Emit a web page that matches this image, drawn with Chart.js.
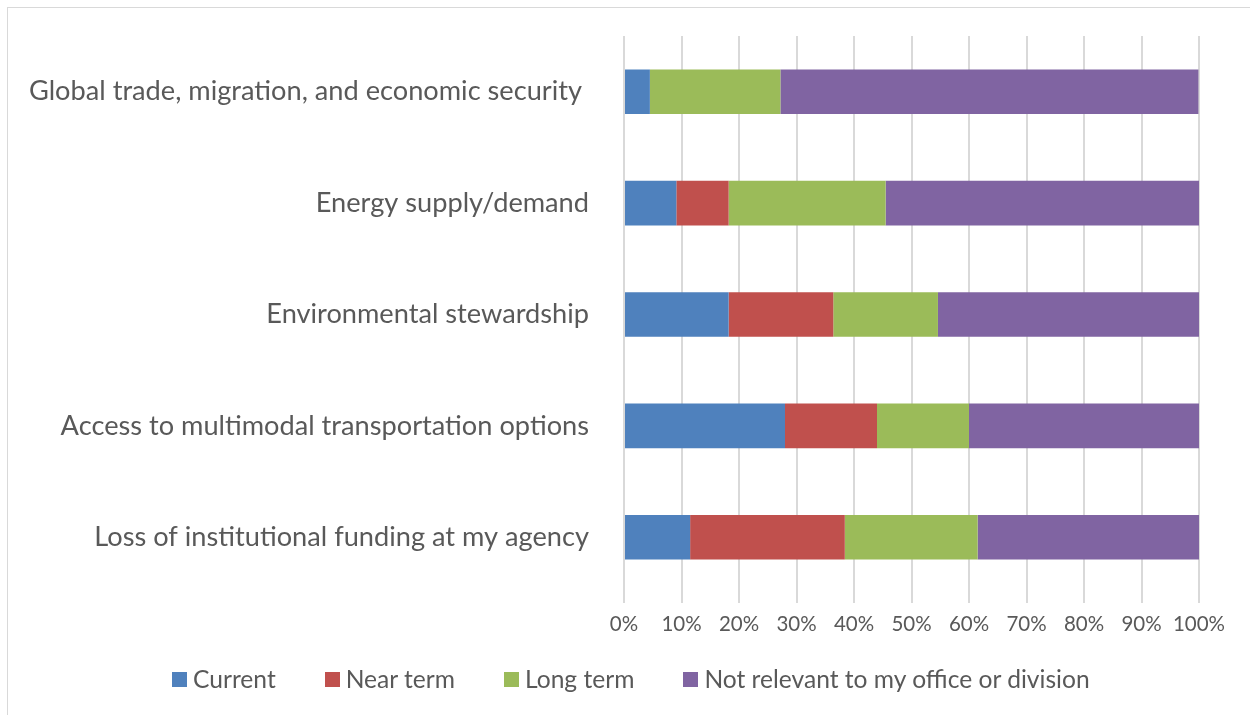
<!DOCTYPE html>
<html lang="en">
<head>
    <meta charset="UTF-8">
    <title>Issues by time horizon</title>
    <script src="https://cdn.jsdelivr.net/npm/chart.js"></script>
    <style>
        body { margin: 0; background: #fff; font-family: Lato, "Open Sans", sans-serif; }
        .frame { position: absolute; left: 7px; top: 7px; width: 1260px; height: 730px; border: 1px solid #d9d9d9; }
        .wrap { position: absolute; left: 0; top: 0; width: 1250px; height: 715px; }
        #legend { position: absolute; left: 172px; top: 664px; display: flex; align-items: center; font-size: 24.6px; color: #595959; line-height: 30px; white-space: nowrap; }
        #legend .item { display: flex; align-items: center; margin-right: 49px; }
        #legend .box { width: 15px; height: 15px; margin-right: 6px; }
    </style>
</head>
<body>
    <div class="frame"></div>
    <div class="wrap"><canvas id="chartIssues"></canvas></div>
    <div id="legend"></div>

    <script>
        // Categories (top to bottom)
        const categories = [
            'Global trade, migration, and economic security ',
            'Energy supply/demand',
            'Environmental stewardship',
            'Access to multimodal transportation options',
            'Loss of institutional funding at my agency'
        ];
        // Percent of respondents per category
        const current     = [4.5, 9.1, 18.2, 28, 11.5];
        const nearTerm    = [0, 9.1, 18.2, 16, 26.9];
        const longTerm    = [22.7, 27.3, 18.2, 16, 23.1];
        const notRelevant = [72.7, 54.5, 45.5, 40, 38.5];

        const textColor = '#595959';
        const fontFam = 'Lato, "Open Sans", sans-serif';

        const ctx = document.getElementById('chartIssues').getContext('2d');
        const chart = new Chart(ctx, {
            type: 'bar',
            data: {
                labels: categories,
                datasets: [
                    { label: 'Current', data: current, backgroundColor: '#4F81BD' },
                    { label: 'Near term', data: nearTerm, backgroundColor: '#C0504D' },
                    { label: 'Long term', data: longTerm, backgroundColor: '#9BBB59' },
                    { label: 'Not relevant to my office or division', data: notRelevant, backgroundColor: '#8064A2' }
                ]
            },
            options: {
                indexAxis: 'y',
                responsive: true,
                maintainAspectRatio: false,
                animation: false,
                layout: { padding: { top: 36, right: 51, left: 0, bottom: 76 } },
                datasets: { bar: { categoryPercentage: 1, barPercentage: 0.4, borderWidth: 0 } },
                plugins: {
                    legend: { display: false },
                    tooltip: { enabled: false }
                },
                scales: {
                    x: {
                        stacked: true,
                        min: 0,
                        max: 100,
                        ticks: {
                            stepSize: 10,
                            color: textColor,
                            font: { family: fontFam, size: 20.5 },
                            padding: 9,
                            maxRotation: 0,
                            callback: v => v + '%'
                        },
                        grid: { color: '#d9d9d9', lineWidth: 2, tickLength: 10 },
                        border: { display: false },
                        afterFit: s => { s.height = 46; }
                    },
                    y: {
                        stacked: true,
                        ticks: {
                            color: textColor,
                            font: { family: fontFam, size: 27.2, lineHeight: 0.6 },
                            padding: 27
                        },
                        grid: { display: false },
                        border: { display: false },
                        afterFit: s => { s.width = 624; }
                    }
                }
            }
        });

        // Legend built from the chart's datasets
        const legendEl = document.getElementById('legend');
        chart.data.datasets.forEach(ds => {
            const item = document.createElement('div');
            item.className = 'item';
            const box = document.createElement('span');
            box.className = 'box';
            box.style.background = ds.backgroundColor;
            const txt = document.createElement('span');
            txt.textContent = ds.label;
            item.appendChild(box);
            item.appendChild(txt);
            legendEl.appendChild(item);
        });
    </script>
</body>
</html>
